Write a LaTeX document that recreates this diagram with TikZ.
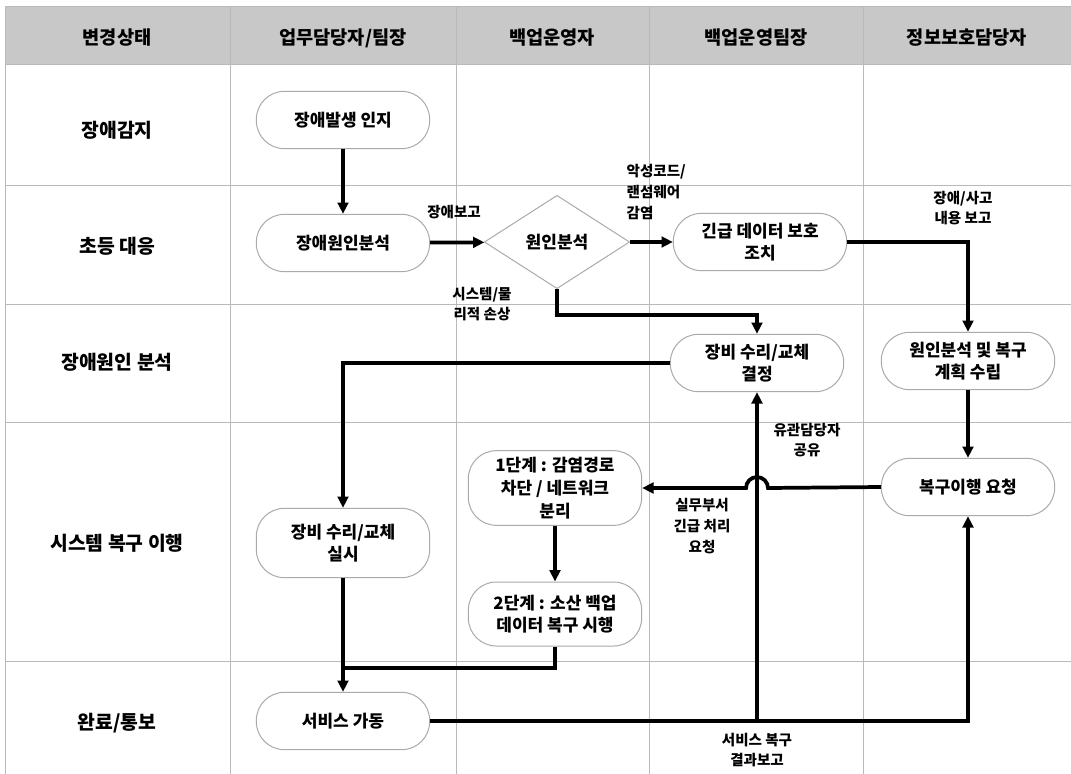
\documentclass[tikz,border=0pt]{standalone}
\usepackage{fontspec}
\setmainfont{Noto Sans CJK KR}
\usetikzlibrary{calc, positioning, shapes.geometric, arrows.meta}
\definecolor{hdrgray}{RGB}{200,200,200}
\definecolor{gridgray}{RGB}{185,185,185}
\definecolor{boxgray}{RGB}{170,170,170}
\tikzset{
  % Set arrowhead
  >={Triangle[length=8.5pt, width=8pt]},
  % Header text
  hdr/.style={font=\fontsize{14}{17}\selectfont\bfseries},
  % Lane (state) text
  lane/.style={font=\fontsize{14.5}{18}\selectfont\bfseries},
  % Process node
  proc/.style={draw=boxgray, line width=0.75pt, fill=white, shape=rectangle,
    rounded corners=21pt, minimum width=130pt, minimum height=43pt,
    inner sep=2pt, align=center, font=\fontsize{12.75}{17}\selectfont\bfseries},
  % Decision node
  dec/.style={proc, shape=diamond, sharp corners, aspect=1.6, inner sep=0pt,
    minimum width=109pt, minimum height=70pt},
  % Arrows
  flow/.style={->, line width=2.8pt},
  link/.style={line width=2.8pt},
  % Connector labels
  lbl/.style={font=\fontsize{10.9}{15.5}\selectfont\bfseries, align=center},
}

\begin{document}
\begin{tikzpicture}[x=0.75pt, y=-0.75pt]
  \useasboundingbox (0,0) rectangle (1071,774);

  % table
  \fill[hdrgray] (5,7) rectangle (1071,65);
  \foreach \x in {5,230,456,649,863}
    \draw[gridgray, line width=0.75pt] (\x,7) -- (\x,774);
  \foreach \y in {7,65,185,304,422,661}
    \draw[gridgray, line width=0.75pt] (5,\y) -- (1071,\y);

  % header
  \node[hdr] (h0) at (117,38) {변경상태};
  \node[hdr] (h1) at (343,38) {업무담당자/팀장};
  \node[hdr] (h2) at (552,38) {백업운영자};
  \node[hdr] (h3) at (756,38) {백업운영팀장};
  \node[hdr] (h4) at (967,38) {정보보호담당자};

  % lanes
  \node[lane] (l1) at (117,130) {장애감지};
  \node[lane] (l2) at (117,246) {초등 대응};
  \node[lane] (l3) at (117,362) {장애원인 분석};
  \node[lane] (l4) at (117,543) {시스템 복구 이행};
  \node[lane] (l5) at (117,723) {완료/통보};

  % steps
  \node[proc] (detect) at (343,120) {장애발생 인지};
  \node[proc] (cause) at (343,243) {장애원인분석};
  \node[dec] (why) at (557,242) {원인분석};
  \node[proc] (protect) at (760,242) {긴급 데이터 보호\\조치};
  \node[proc] (decide) at (757,363) {장비 수리/교체\\결정};
  \node[proc] (plan) at (968,361) {원인분석 및 복구\\계획 수립};
  \node[proc] (req) at (968,487) {복구이행 요청};
  \node[proc, minimum height=56pt] (step1) at (555,488)
    {1단계 : 감염경로\\차단 / 네트워크\\분리};
  \node[proc, minimum height=52pt] (repair) at (343,543) {장비 수리/교체\\실시};
  \node[proc, minimum height=48pt] (step2) at (555,614)
    {2단계 : 소산 백업\\데이터 복구 시행};
  \node[proc] (service) at (343,721) {서비스 가동};

  % connectors
  \draw[flow] (detect) -- (cause);
  \draw[flow] (cause) -- (why);
  \node[lbl] (t1) at (454,212) {장애보고};
  \draw[flow] (why) -- (protect);
  \node[lbl, align=left, anchor=west] (t2) at (622,192) {악성코드/\\랜섬웨어\\감염};
  \draw[flow] (protect.east) -| (plan.north);
  \node[lbl] (t3) at (963,208) {장애/사고\\내용 보고};
  \draw[flow] (why.south) -- ++(0,26) -| (decide.north);
  \node[lbl] (t4) at (482,304) {시스템/물\\리적 손상};
  \draw[flow] (decide.west) -| (repair.north);
  \draw[flow] (plan) -- (req);
  \draw[flow] (req.west) -- (768,488) arc (0:-180:11) -- (step1.east);
  \node[lbl] (t5) at (702,526) {실무부서\\긴급 처리\\요청};
  \draw[flow] (step1) -- (step2);
  \draw[flow] (repair) -- (service);
  \draw[link] (step2.south) |- ([yshift=18pt]service.north);
  \draw[flow] (service.east) -| (decide.south);
  \draw[flow] (service.east) -| (req.south);
  \node[lbl] (t6) at (807,440) {유관담당자\\공유};
  \node[lbl] (t7) at (757,750) {서비스 복구\\결과보고};
\end{tikzpicture}
\end{document}
